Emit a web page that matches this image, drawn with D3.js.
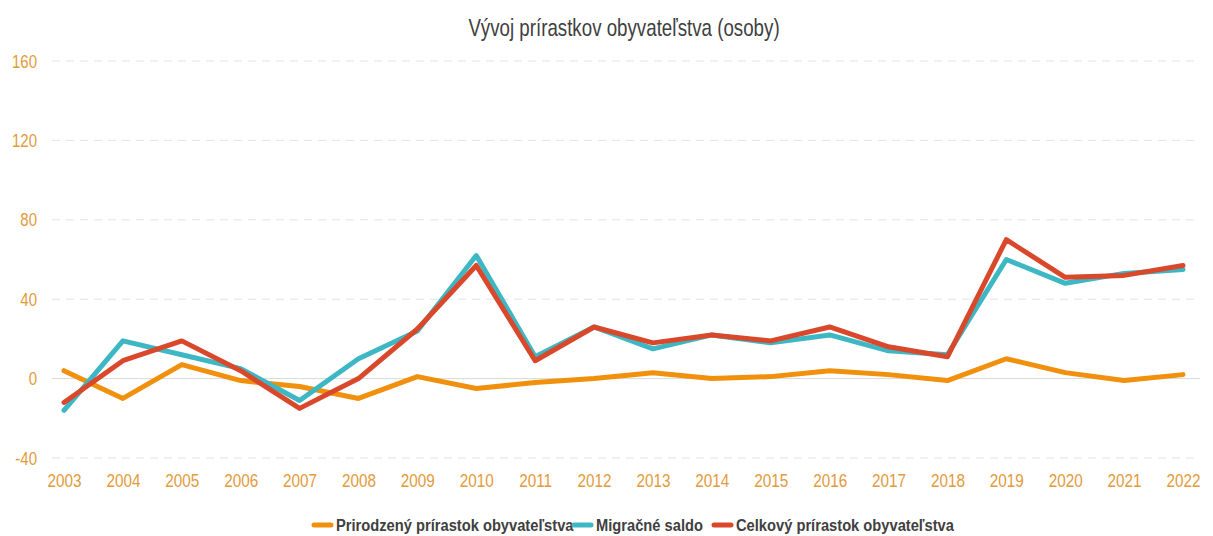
<!DOCTYPE html>
<html>
<head>
<meta charset="utf-8">
<script src="https://cdn.jsdelivr.net/npm/d3@7"></script>
<style>
  body { margin: 0; background: #fff; }
  #display text { font-family: "Liberation Sans", Arial, sans-serif; }
</style>
</head>
<body>
<div id="display"></div>
<script>
var years = ["2003","2004","2005","2006","2007","2008","2009","2010","2011","2012",
             "2013","2014","2015","2016","2017","2018","2019","2020","2021","2022"];
var prirodzeny = [4, -10, 7, -1, -4, -10, 1, -5, -2, 0, 3, 0, 1, 4, 2, -1, 10, 3, -1, 2];
var migracne = [-16, 19, 12, 5, -11, 10, 24, 62, 11, 26, 15, 22, 18, 22, 14, 12, 60, 48, 53, 55];
var celkovy = [-12, 9, 19, 4, -15, 0, 25, 57, 9, 26, 18, 22, 19, 26, 16, 11, 70, 51, 52, 57];
var yTicks = [-40, 0, 40, 80, 120, 160];
var seriesNames = ["Prirodzený prírastok obyvateľstva", "Migračné saldo", "Celkový prírastok obyvateľstva"];

var colourOrange = "#f0900c";
var colourTeal = "#3db7c4";
var colourRed = "#d9482b";
var colourTick = "#e39a3a";

var W = 1213, H = 536,
  margin = {top: 61, right: 30, bottom: 78, left: 64};

var svg = d3.select("#display").append("svg")
    .attr("width", W)
    .attr("height", H);

// no narrow font installed, so squeeze text horizontally (text sits at x=0 in its group)
function narrow(sel, factor) {
  sel.attr("transform", "scale(" + factor + ",1)");
}

var x = d3.scalePoint()
    .domain(years)
    .range([margin.left, 1183]);

var y = d3.scaleLinear()
    .domain([-40, 160])
    .range([458, margin.top]);

svg.append("g")
    .attr("transform", "translate(624,36)")
  .append("text")
    .attr("text-anchor", "middle")
    .attr("fill", "#404040")
    .style("font-size", "24px")
    .text("Vývoj prírastkov obyvateľstva (osoby)")
    .call(narrow, 0.78);

// gridlines
var grid = svg.append("g");
grid.selectAll("line")
    .data(yTicks)
    .enter().append("line")
      .attr("x1", 52)
      .attr("x2", 1200)
      .attr("y1", function(d) { return y(d); })
      .attr("y2", function(d) { return y(d); })
      .attr("stroke", function(d) { return d == 0 ? "#d9d9d9" : "#e3e3e3"; })
      .attr("stroke-width", 1)
      .attr("stroke-dasharray", function(d) { return d == 0 ? null : "8,6"; });

var yAxis = svg.append("g")
    .attr("transform", "translate(37,0)")
    .call(d3.axisLeft(y).tickValues(yTicks).tickSize(0).tickPadding(0)
      .tickFormat(function(d) { return String(d); }));
yAxis.select(".domain").remove();
yAxis.selectAll("text")
    .attr("fill", colourTick)
    .style("font-size", "19px")
    .call(narrow, 0.79);

var xAxis = svg.append("g")
    .attr("transform", "translate(0,474)")
    .call(d3.axisBottom(x).tickSize(0).tickPadding(0));
xAxis.select(".domain").remove();
xAxis.selectAll("text")
    .attr("dy", "0.71em")
    .attr("fill", colourTick)
    .style("font-size", "18px")
    .call(narrow, 0.85);

var series = [
  {name: seriesNames[0], values: prirodzeny, colour: colourOrange},
  {name: seriesNames[1], values: migracne, colour: colourTeal},
  {name: seriesNames[2], values: celkovy, colour: colourRed}
];

var line = d3.line()
    .x(function(d, i) { return x(years[i]); })
    .y(function(d) { return y(d); });

svg.append("g")
  .selectAll("path")
  .data(series)
  .enter().append("path")
    .attr("d", function(d) { return line(d.values); })
    .attr("fill", "none")
    .attr("stroke", function(d) { return d.colour; })
    .attr("stroke-width", 5)
    .attr("stroke-linejoin", "round")
    .attr("stroke-linecap", "round");

// legend
var legendX = [312, 572, 712];
var legend = svg.append("g")
  .selectAll("g")
  .data(series)
  .enter().append("g")
    .attr("transform", function(d, i) { return "translate(" + legendX[i] + ",525)"; });

legend.append("line")
    .attr("x1", 2)
    .attr("x2", 19)
    .attr("stroke", function(d) { return d.colour; })
    .attr("stroke-width", 5)
    .attr("stroke-linecap", "round");

legend.append("g")
    .attr("transform", "translate(24,0)")
  .append("text")
    .attr("dy", "0.36em")
    .attr("fill", "#404040")
    .attr("font-weight", "bold")
    .style("font-size", "17px")
    .text(function(d) { return d.name; })
    .call(narrow, 0.865);
</script>
</body>
</html>
